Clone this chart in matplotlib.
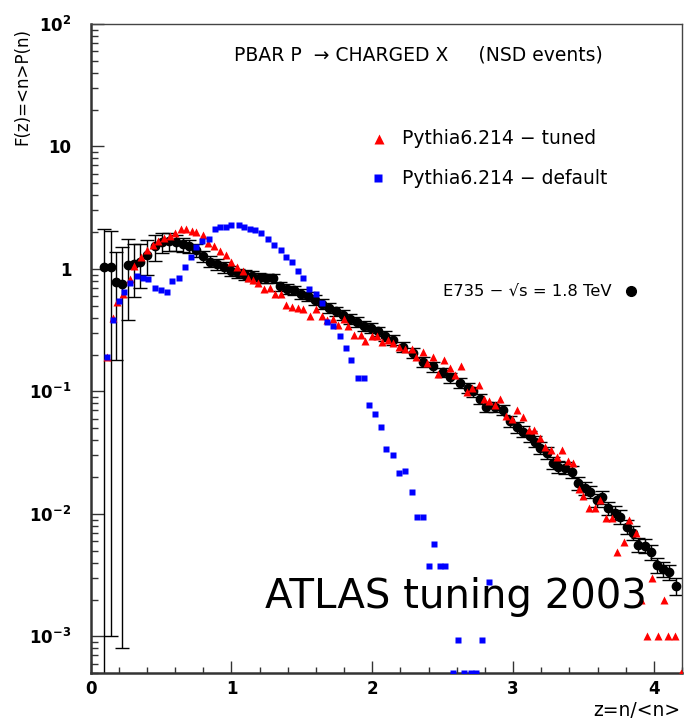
import numpy as np
import matplotlib
matplotlib.use("Agg")
import matplotlib.pyplot as plt
from matplotlib.ticker import FixedLocator, FixedFormatter, MultipleLocator, NullFormatter

# E735 data, sqrt(s)=1.8 TeV
z_e735 = [0.092, 0.142, 0.178, 0.22, 0.263, 0.305, 0.348, 0.398, 0.455, 0.504,
          0.554, 0.604, 0.653, 0.696, 0.746, 0.795, 0.845, 0.895, 0.945, 0.994,
          1.044, 1.094, 1.143, 1.193, 1.243, 1.293, 1.342, 1.392, 1.442, 1.491,
          1.541, 1.591, 1.641, 1.69, 1.74, 1.79, 1.84, 1.89, 1.939, 1.989,
          2.038, 2.088, 2.145, 2.216, 2.287, 2.358, 2.429, 2.50, 2.55, 2.62,
          2.68, 2.713, 2.763, 2.81, 2.87, 2.926, 2.976, 3.026, 3.068, 3.118,
          3.153, 3.189, 3.239, 3.281, 3.317, 3.366, 3.416, 3.459, 3.509, 3.544,
          3.594, 3.629, 3.672, 3.722, 3.757, 3.807, 3.849, 3.885, 3.935, 3.977,
          4.02, 4.062, 4.105, 4.155]
f_e735 = [1.03, 1.03, 0.78, 0.75, 1.07, 1.09, 1.15, 1.31, 1.53, 1.65,
          1.68, 1.65, 1.59, 1.53, 1.42, 1.27, 1.15, 1.09, 1.03, 0.97,
          0.92, 0.90, 0.88, 0.85, 0.84, 0.84, 0.72, 0.69, 0.67, 0.63,
          0.60, 0.56, 0.52, 0.48, 0.45, 0.42, 0.39, 0.37, 0.345, 0.33,
          0.31, 0.286, 0.265, 0.232, 0.207, 0.175, 0.160, 0.143, 0.130, 0.118,
          0.107, 0.100, 0.087, 0.075, 0.075, 0.071, 0.057, 0.0515, 0.047, 0.043,
          0.039, 0.0347, 0.0316, 0.0262, 0.0243, 0.0237, 0.0221, 0.0179, 0.0163, 0.0152,
          0.0130, 0.0138, 0.0112, 0.0102, 0.0095, 0.00785, 0.0070, 0.0056, 0.0055, 0.0049,
          0.00384, 0.00356, 0.00336, 0.00258]
err_e735 = [1.07, 1.029, 0.60, 0.7492, 0.69, 0.50, 0.45, 0.42, 0.37, 0.30,
            0.27, 0.24, 0.21, 0.19, 0.17, 0.14, 0.12, 0.11, 0.10, 0.09,
            0.083, 0.081, 0.079, 0.077, 0.076, 0.076, 0.065, 0.062, 0.060, 0.057,
            0.054, 0.050, 0.047, 0.043, 0.040, 0.038, 0.035, 0.033, 0.031, 0.030,
            0.028, 0.026, 0.024, 0.021, 0.019, 0.016, 0.015, 0.013, 0.012, 0.011,
            0.010, 0.0095, 0.0085, 0.0075, 0.0075, 0.0070, 0.0058, 0.0053, 0.0048, 0.0045,
            0.0041, 0.0037, 0.0034, 0.0029, 0.0027, 0.0026, 0.0025, 0.0021, 0.0019, 0.0018,
            0.0016, 0.0017, 0.0014, 0.0013, 0.0012, 0.0010, 0.0009, 0.00075, 0.00074, 0.00068,
            0.00055, 0.00052, 0.0005, 0.0004]

# Pythia6.214 - tuned
z_tuned = [0.114, 0.156, 0.19, 0.23, 0.28, 0.31, 0.36, 0.40, 0.44, 0.48,
           0.52, 0.56, 0.60, 0.64, 0.68, 0.72, 0.75, 0.795, 0.833, 0.873,
           0.915, 0.96, 1.0, 1.04, 1.08, 1.115, 1.15, 1.19, 1.232, 1.27,
           1.31, 1.35, 1.39, 1.43, 1.47, 1.51, 1.555, 1.60, 1.64, 1.68,
           1.72, 1.76, 1.80, 1.83, 1.87, 1.92, 1.95, 1.995, 2.03, 2.07,
           2.11, 2.145, 2.19, 2.23, 2.28, 2.31, 2.36, 2.39, 2.43, 2.47,
           2.51, 2.55, 2.59, 2.63, 2.67, 2.71, 2.755, 2.79, 2.83, 2.87,
           2.91, 2.95, 2.99, 3.03, 3.07, 3.11, 3.15, 3.19, 3.23, 3.27,
           3.31, 3.35, 3.39, 3.425, 3.47, 3.50, 3.54, 3.58, 3.62, 3.66,
           3.70, 3.74, 3.79, 3.82, 3.87, 3.91, 3.95, 3.99, 4.03, 4.07,
           4.10, 4.15, 4.19]
f_tuned = [0.19, 0.40, 0.54, 0.62, 0.82, 1.05, 1.26, 1.44, 1.58, 1.68,
           1.80, 1.87, 1.98, 2.10, 2.10, 2.03, 2.00, 1.88, 1.62, 1.53,
           1.39, 1.31, 1.13, 1.03, 0.97, 0.85, 0.81, 0.77, 0.68, 0.70,
           0.63, 0.63, 0.51, 0.49, 0.48, 0.47, 0.41, 0.47, 0.41, 0.38,
           0.39, 0.35, 0.39, 0.34, 0.29, 0.29, 0.26, 0.285, 0.285, 0.255,
           0.265, 0.25, 0.23, 0.22, 0.22, 0.19, 0.21, 0.17, 0.19, 0.14,
           0.18, 0.155, 0.135, 0.16, 0.098, 0.107, 0.112, 0.087, 0.084, 0.078,
           0.087, 0.063, 0.059, 0.070, 0.062, 0.048, 0.048, 0.042, 0.035, 0.033,
           0.029, 0.033, 0.027, 0.026, 0.0161, 0.0139, 0.0112, 0.0112, 0.0130, 0.0093,
           0.0093, 0.0049, 0.0059, 0.0090, 0.0070, 0.0020, 0.0010, 0.0030, 0.0010, 0.0020,
           0.0010, 0.0010, 0.0005]

# Pythia6.214 - default
z_default = [0.114, 0.156, 0.20, 0.24, 0.28, 0.33, 0.37, 0.41, 0.455, 0.50,
             0.54, 0.58, 0.63, 0.67, 0.71, 0.75, 0.79, 0.84, 0.88, 0.92,
             0.96, 1.00, 1.05, 1.09, 1.13, 1.17, 1.21, 1.26, 1.30, 1.35,
             1.385, 1.43, 1.47, 1.51, 1.55, 1.60, 1.64, 1.68, 1.72, 1.77,
             1.81, 1.85, 1.90, 1.94, 1.98, 2.02, 2.06, 2.10, 2.15, 2.19,
             2.23, 2.28, 2.32, 2.36, 2.40, 2.44, 2.48, 2.52, 2.57, 2.61,
             2.65, 2.70, 2.74, 2.78, 2.83]
f_default = [0.19, 0.38, 0.55, 0.65, 0.77, 0.87, 0.85, 0.82, 0.70, 0.67,
             0.65, 0.79, 0.85, 1.03, 1.24, 1.50, 1.68, 1.77, 2.10, 2.18,
             2.22, 2.30, 2.30, 2.22, 2.10, 2.06, 1.98, 1.77, 1.58, 1.44,
             1.24, 1.13, 0.97, 0.85, 0.69, 0.63, 0.53, 0.37, 0.34, 0.285,
             0.228, 0.18, 0.128, 0.128, 0.078, 0.066, 0.051, 0.034, 0.030, 0.0217,
             0.0226, 0.0152, 0.0095, 0.0095, 0.00377, 0.0057, 0.00377, 0.00377, 0.0005, 0.00093,
             0.0005, 0.0005, 0.0005, 0.00093, 0.0028]

ytick_vals = [1e-3, 1e-2, 1e-1, 1, 10, 100]
ytick_labels = ['$10^{-3}$', '$10^{-2}$', '$10^{-1}$', '1', '10', '$10^{2}$']

plt.rcParams['font.family'] = 'DejaVu Sans'
plt.rcParams['mathtext.fontset'] = 'dejavusans'
plt.rcParams['mathtext.default'] = 'bf'

fig = plt.figure(figsize=(6.84, 7.22), dpi=100)
ax = fig.add_axes([0.1326, 0.0675, 0.8645, 0.8993])
ax.set_yscale('log', nonpositive='clip')

ax.errorbar(z_e735, f_e735, yerr=err_e735, fmt='o', color='black', ms=6,
            elinewidth=1, capsize=5, capthick=1, zorder=2)
ax.plot(z_tuned, f_tuned, '^', color='#ff0000', ms=6, mec='none', zorder=3)
ax.plot(z_default, f_default, 's', color='#0000ff', ms=5, mec='none', zorder=4)

ax.set_xlim(0, 4.2)
ax.set_ylim(5e-4, 100)

ax.yaxis.set_major_locator(FixedLocator(ytick_vals))
ax.yaxis.set_major_formatter(FixedFormatter(ytick_labels))
ax.xaxis.set_major_locator(MultipleLocator(1))
ax.xaxis.set_minor_locator(MultipleLocator(0.2))
ax.yaxis.set_minor_formatter(NullFormatter())

ax.tick_params(axis='both', which='both', direction='in', top=False, right=False,
               color='#333333', width=1)
ax.tick_params(axis='y', which='major', length=9.5, pad=14, labelsize=12)
ax.tick_params(axis='y', which='minor', length=5)
ax.tick_params(axis='x', which='major', length=8.5, pad=5, labelsize=12)
ax.tick_params(axis='x', which='minor', length=4)
for lab in ax.get_xticklabels() + ax.get_yticklabels():
    lab.set_fontweight('bold')

for s in ['left', 'bottom']:
    ax.spines[s].set_linewidth(1.8)
    ax.spines[s].set_color('#333333')
for s in ['top', 'right']:
    ax.spines[s].set_linewidth(1)
    ax.spines[s].set_color('#444444')

ax.text(1.02, 56, 'PBAR P  \u2192 CHARGED X     (NSD events)', fontsize=13.5,
        ha='left', va='center')
ax.plot([2.05], [11.6], '^', color='#ff0000', ms=7, mec='none')
ax.text(2.21, 11.6, 'Pythia6.214 \u2212 tuned', fontsize=13.5, ha='left', va='center')
ax.plot([2.04], [5.5], 's', color='#0000ff', ms=6, mec='none')
ax.text(2.21, 5.5, 'Pythia6.214 \u2212 default', fontsize=13.5, ha='left', va='center')
ax.text(2.5, 0.66, 'E735 \u2212 \u221as = 1.8 TeV', fontsize=11.8, ha='left', va='center')
ax.plot([3.835], [0.66], 'o', color='black', ms=7)

ax.text(1.235, 0.0021, 'ATLAS tuning 2003', fontsize=29, ha='left', va='center')

fig.text(22 / 684, 1 - 28 / 722, 'F(z)=<n>P(n)', rotation=90, fontsize=12,
         ha='center', va='top')
fig.text(680 / 684, 1 - 710 / 722, 'z=n/<n>', fontsize=13.5, ha='right', va='center')

fig.savefig('out.png', dpi=100)
